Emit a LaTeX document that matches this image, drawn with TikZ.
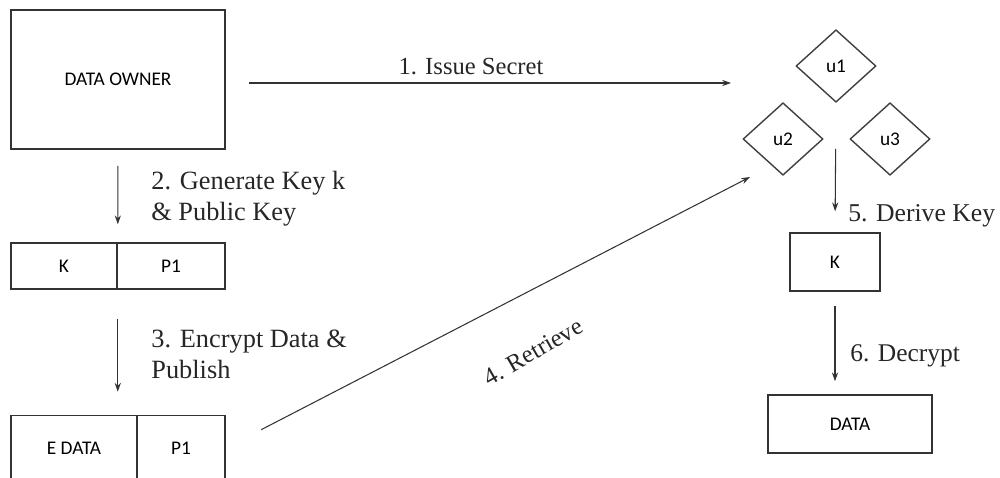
\documentclass[tikz,border=0pt]{standalone}
\usepackage{fontspec}
\setmainfont{Liberation Serif}
\setsansfont{Carlito}
\usetikzlibrary{arrows.meta, shapes.geometric}

\begin{document}
\begin{tikzpicture}[x=0.02cm, y=-0.02cm,
    box/.style={draw=black!80, line width=0.9pt, font=\sffamily\fontsize{11}{13}\selectfont, inner sep=0pt},
    user/.style={diamond, draw=black!75, line width=0.8pt, aspect=1.1, minimum width=1.6cm, minimum height=1.45cm, inner sep=0pt, font=\sffamily\fontsize{11}{13}\selectfont},
    lbl/.style={font=\fontsize{14}{17}\selectfont, inner sep=0pt, text=black!85},
    biglbl/.style={lbl, font=\fontsize{15}{17.6}\selectfont, anchor=north west, align=left},
    flow/.style={draw=black!80, line width=0.6pt, -{Stealth[length=5pt, width=3.5pt]}}]
      \useasboundingbox (0, 0) rectangle (1000, 477);
      \clip (0, 0) rectangle (1000, 477);
      % data owner side
      \node[box, minimum width=4.28cm, minimum height=2.78cm] (owner) at (118, 79.5) {DATA OWNER};
      \node[box, minimum width=2.12cm, minimum height=0.92cm] (kp) at (64, 266) {K};
      \node[box, minimum width=2.16cm, minimum height=0.92cm] (p1) at (171, 266) {P1};
      \node[box, minimum width=2.52cm, minimum height=1.3cm] (edata) at (74, 448) {E DATA};
      \node[box, minimum width=1.76cm, minimum height=1.3cm] (p1e) at (181, 448) {P1};
      % users side
      \node[user] (u1) at (836, 66) {u1};
      \node[user] (u2) at (783, 139) {u2};
      \node[user] (u3) at (890, 139) {u3};
      \node[box, minimum width=1.8cm, minimum height=1.16cm] (kr) at (835, 262) {K};
      \node[box, minimum width=3.28cm, minimum height=1.16cm] (data) at (850, 424) {DATA};
      \coordinate (issue) at (731, 83);
      \coordinate (fetch) at (750, 177);
      % connectors
      \draw[flow, shorten <=0.46cm] (owner.east |- issue) -- (issue);
      \draw[flow, shorten <=0.32cm, shorten >=0.36cm] (owner.south) -- (kp.north east);
      \draw[flow, shorten <=0.58cm, shorten >=0.46cm] (kp.south east) -- (kp.south east |- edata.north);
      \draw[flow, shorten <=0.8cm] (p1e.east) -- (fetch);
      \draw[flow, shorten <=0.92cm, shorten >=0.42cm] (u1.south) -- (kr.north);
      \draw[flow, shorten <=0.28cm, shorten >=0.26cm] (kr.south) -- (kr.south |- data.north);
      % labels
      \node[lbl] (l1) at (471, 67) {1. Issue Secret};
      \node[biglbl] (l2) at (151, 171) {2. Generate Key k\\\& Public Key};
      \node[biglbl] (l3) at (151, 330) {3. Encrypt Data \&\\Publish};
      \node[lbl, rotate=30] (l4) at (533, 352) {4. Retrieve};
      \node[lbl, anchor=west, font=\fontsize{14.6}{17}\selectfont] (l5) at (848, 216) {5. Derive Key};
      \node[lbl, anchor=west, font=\fontsize{14.5}{17}\selectfont] (l6) at (850, 356) {6. Decrypt};
    \end{tikzpicture}
\end{document}
